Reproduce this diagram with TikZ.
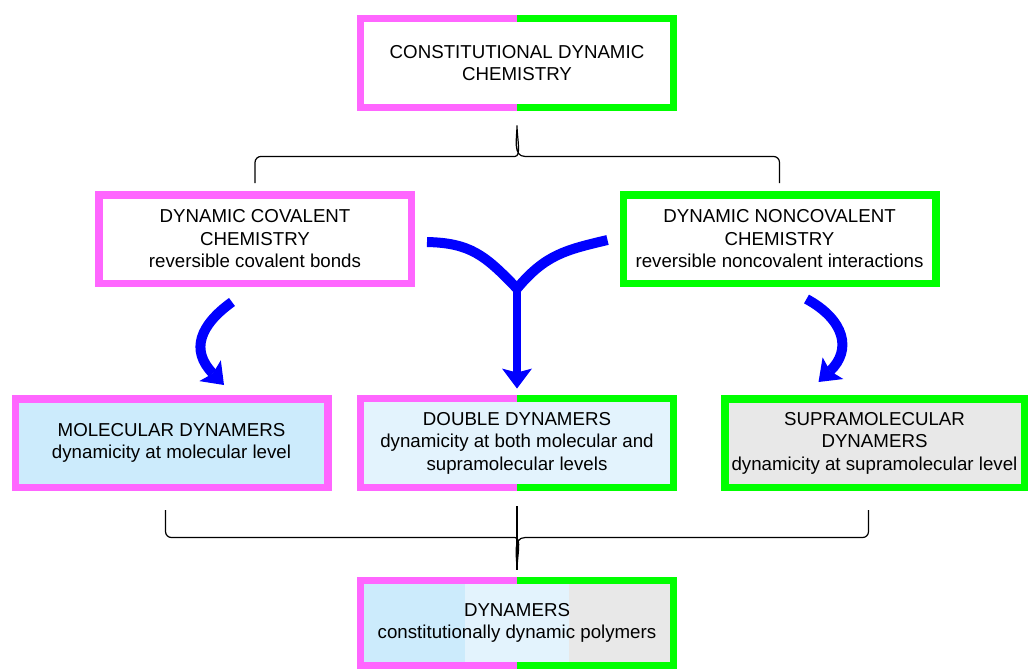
\documentclass[tikz,border=0pt]{standalone}
\usepackage{fontspec}
\setmainfont{Liberation Sans}
\usetikzlibrary{arrows.meta,calc}
\definecolor{pinkc}{HTML}{FF66FF}
\definecolor{greenc}{HTML}{00FF00}
\definecolor{bluec}{HTML}{0000FF}
\definecolor{molfill}{HTML}{CCEBFC}
\definecolor{dblfill}{HTML}{E3F3FD}
\definecolor{suprafill}{HTML}{E8E8E8}

\begin{document}
\begin{tikzpicture}[x=1pt,y=-1pt,
  box/.style={minimum width=312.5pt,minimum height=88.5pt,inner sep=0pt,align=center,
    font=\fontsize{18.7}{22.5}\selectfont},
  pinkbox/.style={box,draw=pinkc,line width=7.5pt},
  greenbox/.style={box,draw=greenc,line width=7.5pt},
  pinkline/.style={draw=pinkc,line width=7.5pt},
  greenline/.style={draw=greenc,line width=7.5pt},
  brace/.style={draw=black,line width=1.2pt},
  bluearrow/.style={draw=bluec,line width=10pt,-{Stealth[length=20pt,width=30pt,inset=4pt,line width=0pt]}},
  yarm/.style={draw=bluec,line width=10pt,line join=miter}]
\useasboundingbox (0,0) rectangle (1028,669);

% boxes
\node[box] (top) at (517,63) {CONSTITUTIONAL DYNAMIC\\CHEMISTRY};
\node[pinkbox] (cov) at (255,239) {DYNAMIC COVALENT\\CHEMISTRY\\reversible covalent bonds};
\node[greenbox] (nonc) at (779.5,239) {DYNAMIC NONCOVALENT\\CHEMISTRY\\reversible noncovalent interactions};
\node[pinkbox,fill=molfill] (mol) at (171.5,443) {MOLECULAR DYNAMERS\\dynamicity at molecular level};
\node[box,fill=dblfill] (dbl) at (517,443) {DOUBLE DYNAMERS\\dynamicity at both molecular and\\supramolecular levels};
\node[greenbox,fill=suprafill,minimum width=299.5pt] (supra) at (874.5,443) {SUPRAMOLECULAR\\DYNAMERS\\dynamicity at supramolecular level};
\node[box,minimum height=84.5pt,fill=dblfill,
  path picture={
    \fill[molfill] (path picture bounding box.south west) rectangle
      ($(path picture bounding box.north west)!1/3!(path picture bounding box.north east)$);
    \fill[suprafill] (path picture bounding box.north east) rectangle
      ($(path picture bounding box.south west)!2/3!(path picture bounding box.south east)$);
  }] (dyn) at (517,623) {DYNAMERS\\constitutionally dynamic polymers};

% two-coloured borders
\foreach \b in {top,dbl,dyn} {
  \draw[pinkline] (\b.north) -- (\b.north west) -- (\b.south west) -- (\b.south);
  \draw[greenline] (\b.north) -- (\b.north east) -- (\b.south east) -- (\b.south);
}

% braces
\coordinate (tip1) at ([yshift=-18pt]top.south);
\coordinate (tip2) at ([yshift=11pt]dyn.north);
\draw[brace] ([yshift=8pt]cov.north) [rounded corners=6pt] |- ($(tip1)+(-8,31)$) [sharp corners]
  to[out=0,in=-90] (tip1) to[out=-90,in=180] ++(8,31) [rounded corners=6pt] -| ([yshift=8pt]nonc.north);
\draw[brace] ([xshift=-6pt,yshift=-19pt]mol.south) [rounded corners=6pt] |- ($(tip2)+(-8,-32)$) [sharp corners]
  to[out=0,in=90] (tip2) to[out=90,in=180] ++(8,-32) [rounded corners=6pt] -| ([xshift=-6pt,yshift=-19pt]supra.south);
\draw[brace] ([yshift=-19pt]dbl.south) -- (tip2);

% blue arrows
\draw[bluearrow] ([xshift=-23pt,yshift=-15pt]cov.south) .. controls (200,325) and (190,350) .. ([xshift=52.5pt,yshift=10pt]mol.north);
\draw[bluearrow] ([xshift=27pt,yshift=-12pt]nonc.south) .. controls (845,320) and (852,350) .. ([xshift=-56pt,yshift=13pt]supra.north);
\coordinate (fork) at ([yshift=110pt]dbl.north);
\draw[yarm] ([xshift=12pt,yshift=-3pt]cov.east) .. controls (470,243) and (485,255) .. (fork)
  .. controls (545,255) and (565,250) .. ([xshift=-12pt,yshift=-1pt]nonc.west);
\draw[bluearrow,line width=8pt] (fork) -- ([yshift=10pt]dbl.north);
\end{tikzpicture}
\end{document}
